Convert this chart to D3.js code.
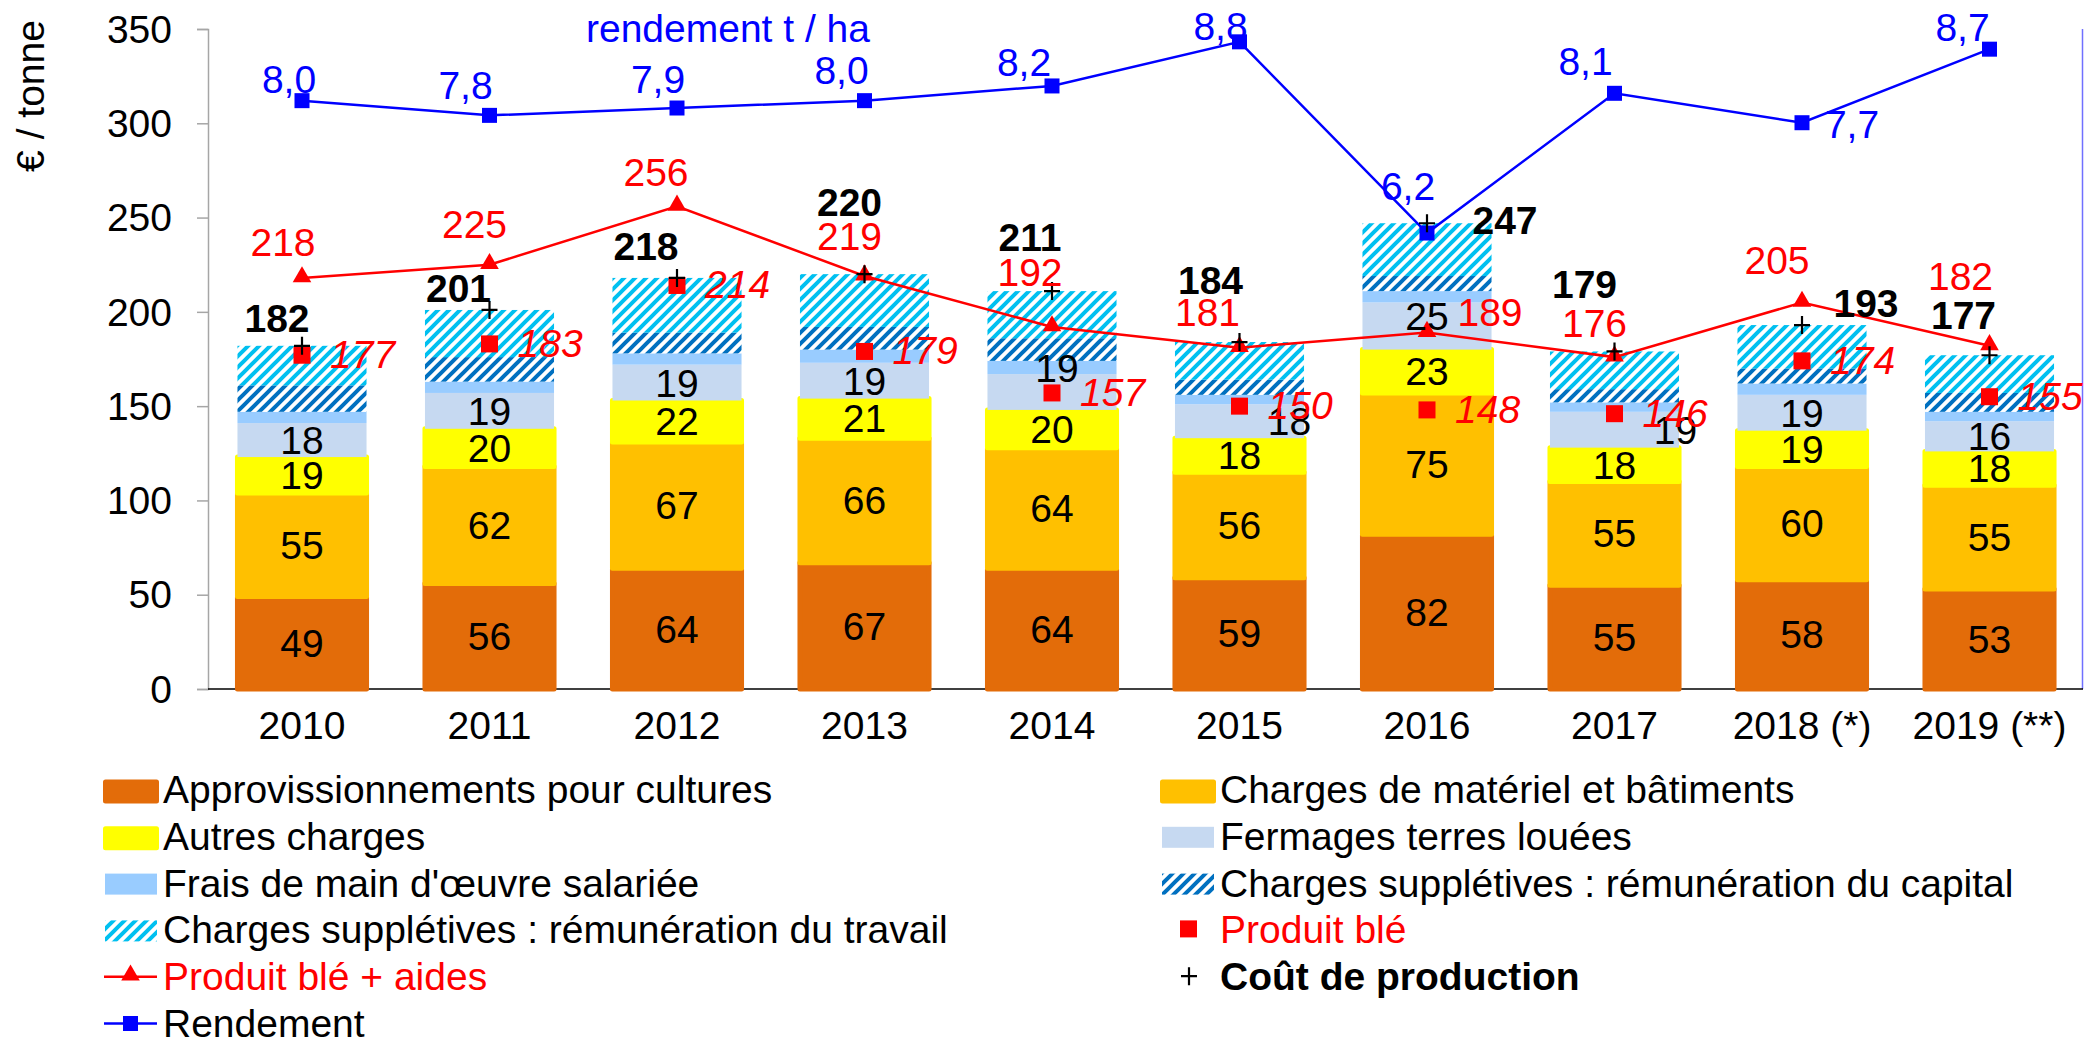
<!DOCTYPE html>
<html>
<head>
<meta charset="utf-8">
<script src="https://cdn.jsdelivr.net/npm/d3@7"></script>
<style>
  body { margin: 0; background: #fff; }
  svg { display: block; }
  text { font-family: "Liberation Sans", Arial, sans-serif; }
</style>
</head>
<body>
<svg id="chart"></svg>
<script>
// --- Data ---
const years = ["2010", "2011", "2012", "2013", "2014", "2015", "2016", "2017", "2018 (*)", "2019 (**)"];
const appro = [49, 56, 64, 67, 64, 59, 82, 55, 58, 53];
const materiel = [55, 62, 67, 66, 64, 56, 75, 55, 60, 55];
const autres = [19, 20, 22, 21, 20, 18, 23, 18, 19, 18];
const fermages = [18, 19, 19, 19, 19, 18, 25, 19, 19, 16];
const mainOeuvre = [6, 6, 6, 7, 7, 5, 6, 5, 6, 5];
const capital = [14, 13, 11, 12, 12, 8, 8, 7, 8, 10];
const travail = [21, 25, 29, 28, 25, 20, 28, 20, 23, 20];
const coutProduction = [182, 201, 218, 220, 211, 184, 247, 179, 193, 177];
const produitBle = [177, 183, 214, 179, 157, 150, 148, 146, 174, 155];
const produitAides = [218, 225, 256, 219, 192, 181, 189, 176, 205, 182];
const rendement = [8.0, 7.8, 7.9, 8.0, 8.2, 8.8, 6.2, 8.1, 7.7, 8.7];

// label nudges (px), like the hand-placed labels of the original
const coutLabelOffset = [[-25, -14], [-31, -8], [-31, -18], [-15, -58], [-22, -40], [-29, -48], [78, 11], [-30, -53], [64, -8], [-26, -26]];
const aidesLabelOffset = [[-19, -22], [-15, -27], [-21, -20], [-15, -26], [-22, -41], [-32, -22], [63, -7], [-20, -20], [-25, -28], [-29, -56]];
const rendLabelOffset = [[-13, -8], [-24, -16], [-19, -15], [-23, -17], [-28, -10], [-19, -2], [-19, -33], [-29, -18], [50, 15], [-27, -8]];
const fermagesLabelOffset = [[0, 0], [0, 0], [0, 0], [0, 0], [5, -24], [50, 0], [0, -10], [61, 0], [0, 0], [0, 0]];

const width = 2087;
const height = 1038;
const fs = 39;
const font = "Liberation Sans, Arial, sans-serif";

const svg = d3.select('#chart')
  .attr('width', width)
  .attr('height', height);

// --- Patterns ---
const defs = svg.append('defs');
function hatch(id, color) {
  const p = defs.append('pattern')
    .attr('id', id)
    .attr('patternUnits', 'userSpaceOnUse')
    .attr('width', 11).attr('height', 11);
  p.append('rect').attr('width', 11).attr('height', 11).attr('fill', '#fff');
  p.append('path')
    .attr('d', 'M-2,2 L2,-2 M0,11 L11,0 M9,13 L13,9')
    .attr('stroke', color)
    .attr('stroke-width', 4);
}
hatch('hatchCapital', '#0070C0');
hatch('hatchTravail', '#00C0F0');

// --- Scales ---
const x = d3.scaleBand()
  .domain(years)
  .range([208.25, 2083.25])
  .paddingInner(0.285)
  .paddingOuter(0.1425);
const y = d3.scaleLinear().domain([0, 350]).range([689, 29]);
const yR = d3.scaleLinear().domain([0, 350 / 39]).range([689, 29]);
const cx = i => x(years[i]) + x.bandwidth() / 2;

// --- Axes ---
const yAxis = svg.append('g')
  .attr('transform', 'translate(208,0)')
  .call(d3.axisLeft(y).tickValues(d3.range(0, 351, 50)).tickSize(11).tickPadding(25));
yAxis.select('.domain').attr('stroke', '#a6a6a6').attr('stroke-width', 1.5);
yAxis.selectAll('.tick line').attr('stroke', '#a6a6a6').attr('stroke-width', 1.5);
yAxis.selectAll('.tick text')
  .attr('font-size', fs).attr('font-family', font).attr('fill', '#000')
  .attr('dy', '0.34em');

svg.append('text')
  .attr('transform', 'translate(44,96) rotate(-90)')
  .attr('text-anchor', 'middle')
  .attr('font-size', fs)
  .text('€ / tonne');

svg.append('line')
  .attr('x1', 2082.5).attr('x2', 2082.5)
  .attr('y1', 29).attr('y2', 689)
  .attr('stroke', '#7070ff').attr('stroke-width', 1.5);

svg.append('line')
  .attr('x1', 208).attr('x2', 2083)
  .attr('y1', 689).attr('y2', 689)
  .attr('stroke', '#000').attr('stroke-width', 1.5);

svg.append('g').selectAll('text')
  .data(years)
  .join('text')
  .attr('x', d => x(d) + x.bandwidth() / 2)
  .attr('y', 739)
  .attr('text-anchor', 'middle')
  .attr('font-size', fs)
  .text(d => d);

// --- Stacked bars ---
const series = [
  { key: 'appro', values: appro, fill: '#E36C09', stroke: true, label: true },
  { key: 'materiel', values: materiel, fill: '#FFC000', stroke: true, label: true },
  { key: 'autres', values: autres, fill: '#FFFF00', stroke: true, label: true },
  { key: 'fermages', values: fermages, fill: '#C6D9F1', stroke: false, label: true },
  { key: 'mainOeuvre', values: mainOeuvre, fill: '#99CCFF', stroke: false, label: false },
  { key: 'capital', values: capital, fill: 'url(#hatchCapital)', stroke: false, label: false },
  { key: 'travail', values: travail, fill: 'url(#hatchTravail)', stroke: false, label: false }
];
const table = years.map((yr, i) => {
  const row = { year: yr };
  series.forEach(s => { row[s.key] = s.values[i]; });
  return row;
});
const stacked = d3.stack().keys(series.map(s => s.key))(table);

const barsLayer = svg.append('g');
stacked.forEach((layer, k) => {
  const s = series[k];
  barsLayer.append('g')
    .selectAll('rect')
    .data(layer)
    .join('rect')
    .attr('x', d => x(d.data.year) + 2.5)
    .attr('width', x.bandwidth() - 5)
    .attr('y', d => y(d[1]))
    .attr('height', d => y(d[0]) - y(d[1]))
    .attr('fill', s.fill)
    .attr('stroke', s.stroke ? s.fill : 'none')
    .attr('stroke-width', s.stroke ? 5 : 0)
    .attr('stroke-linejoin', 'round');
});

// --- Lines ---
const lineAides = d3.line().x((d, i) => cx(i)).y(d => y(d));
svg.append('path')
  .attr('d', lineAides(produitAides))
  .attr('fill', 'none').attr('stroke', '#FF0000').attr('stroke-width', 2.5);
const triangle = d3.symbol().type(d3.symbolTriangle).size(150);
svg.append('g').selectAll('path')
  .data(produitAides)
  .join('path')
  .attr('d', triangle)
  .attr('transform', (d, i) => `translate(${cx(i)},${y(d) - 1})`)
  .attr('fill', '#FF0000');

svg.append('g').selectAll('rect')
  .data(produitBle)
  .join('rect')
  .attr('x', (d, i) => cx(i) - 8.5)
  .attr('y', d => y(d) - 8.5)
  .attr('width', 17).attr('height', 17)
  .attr('fill', '#FF0000');

const lineRend = d3.line().x((d, i) => cx(i)).y(d => yR(d));
svg.append('path')
  .attr('d', lineRend(rendement))
  .attr('fill', 'none').attr('stroke', '#0000FF').attr('stroke-width', 2.5);
svg.append('g').selectAll('rect')
  .data(rendement)
  .join('rect')
  .attr('x', (d, i) => cx(i) - 7.5)
  .attr('y', d => yR(d) - 7.5)
  .attr('width', 15).attr('height', 15)
  .attr('fill', '#0000FF');

svg.append('g').selectAll('path')
  .data(coutProduction)
  .join('path')
  .attr('d', (d, i) => `M${cx(i) - 8},${y(d)} h16 M${cx(i)},${y(d) - 9} v18`)
  .attr('stroke', '#000').attr('stroke-width', 2.2);

// --- Labels ---
stacked.forEach((layer, k) => {
  const s = series[k];
  if (!s.label) return;
  svg.append('g').selectAll('text')
    .data(layer)
    .join('text')
    .attr('x', (d, i) => cx(i) + (s.key === 'fermages' ? fermagesLabelOffset[i][0] : 0))
    .attr('y', (d, i) => (y(d[0]) + y(d[1])) / 2 + 14 + (s.key === 'fermages' ? fermagesLabelOffset[i][1] : 0))
    .attr('text-anchor', 'middle')
    .attr('font-size', fs)
    .text(d => d[1] - d[0]);
});

svg.append('g').selectAll('text')
  .data(produitBle)
  .join('text')
  .attr('x', (d, i) => cx(i) + 28)
  .attr('y', d => y(d) + 13)
  .attr('font-size', fs)
  .attr('font-style', 'italic')
  .attr('fill', '#FF0000')
  .text(d => d);

svg.append('g').selectAll('text')
  .data(produitAides)
  .join('text')
  .attr('x', (d, i) => cx(i) + aidesLabelOffset[i][0])
  .attr('y', (d, i) => y(d) + aidesLabelOffset[i][1])
  .attr('text-anchor', 'middle')
  .attr('font-size', fs)
  .attr('fill', '#FF0000')
  .text(d => d);

svg.append('g').selectAll('text')
  .data(coutProduction)
  .join('text')
  .attr('x', (d, i) => cx(i) + coutLabelOffset[i][0])
  .attr('y', (d, i) => y(d) + coutLabelOffset[i][1])
  .attr('text-anchor', 'middle')
  .attr('font-size', fs)
  .attr('font-weight', 'bold')
  .text(d => d);

const fmtRend = d3.format('.1f');
svg.append('g').selectAll('text')
  .data(rendement)
  .join('text')
  .attr('x', (d, i) => cx(i) + rendLabelOffset[i][0])
  .attr('y', (d, i) => yR(d) + rendLabelOffset[i][1])
  .attr('text-anchor', 'middle')
  .attr('font-size', fs)
  .attr('fill', '#0000FF')
  .text(d => fmtRend(d).replace('.', ','));

svg.append('text')
  .attr('x', 728)
  .attr('y', 42)
  .attr('text-anchor', 'middle')
  .attr('font-size', fs)
  .attr('fill', '#0000FF')
  .text('rendement t / ha');

// --- Legend ---
const legendRows = [
  { col: 0, row: 0, type: 'solid', color: '#E36C09', text: 'Approvissionnements pour cultures' },
  { col: 0, row: 1, type: 'solid', color: '#FFFF00', text: 'Autres charges' },
  { col: 0, row: 2, type: 'flat', color: '#99CCFF', text: "Frais de main d'œuvre salariée" },
  { col: 0, row: 3, type: 'flat', color: 'url(#hatchTravail)', text: 'Charges supplétives : rémunération du travail' },
  { col: 0, row: 4, type: 'triangle', color: '#FF0000', text: 'Produit blé + aides', textColor: '#FF0000' },
  { col: 0, row: 5, type: 'lineSquare', color: '#0000FF', text: 'Rendement' },
  { col: 1, row: 0, type: 'solid', color: '#FFC000', text: 'Charges de matériel et bâtiments' },
  { col: 1, row: 1, type: 'flat', color: '#C6D9F1', text: 'Fermages terres louées' },
  { col: 1, row: 2, type: 'flat', color: 'url(#hatchCapital)', text: 'Charges supplétives : rémunération du capital' },
  { col: 1, row: 3, type: 'square', color: '#FF0000', text: 'Produit blé', textColor: '#FF0000' },
  { col: 1, row: 4, type: 'plus', color: '#000', text: 'Coût de production', bold: true }
];
const legend = svg.append('g');
legendRows.forEach(item => {
  const mx = item.col === 0 ? 103 : 1160;
  const tx = item.col === 0 ? 163 : 1220;
  const base = 803 + item.row * 46.8;
  const g = legend.append('g');
  if (item.type === 'solid') {
    g.append('rect').attr('x', mx + 2.5).attr('y', base - 21).attr('width', 51).attr('height', 19)
      .attr('fill', item.color).attr('stroke', item.color).attr('stroke-width', 5).attr('stroke-linejoin', 'round');
  } else if (item.type === 'flat') {
    g.append('rect').attr('x', mx + 2).attr('y', base - 23).attr('width', 52).attr('height', 21)
      .attr('fill', item.color);
  } else if (item.type === 'triangle') {
    g.append('line').attr('x1', mx + 1).attr('x2', mx + 54).attr('y1', base - 13.5).attr('y2', base - 13.5)
      .attr('stroke', item.color).attr('stroke-width', 2.5);
    g.append('path').attr('d', triangle).attr('transform', `translate(${mx + 27.5},${base - 15})`).attr('fill', item.color);
  } else if (item.type === 'lineSquare') {
    g.append('line').attr('x1', mx + 1).attr('x2', mx + 54).attr('y1', base - 13.5).attr('y2', base - 13.5)
      .attr('stroke', item.color).attr('stroke-width', 2.5);
    g.append('rect').attr('x', mx + 20).attr('y', base - 21).attr('width', 15).attr('height', 15).attr('fill', item.color);
  } else if (item.type === 'square') {
    g.append('rect').attr('x', mx + 20).attr('y', base - 23).attr('width', 17).attr('height', 17).attr('fill', item.color);
  } else if (item.type === 'plus') {
    g.append('path').attr('d', `M${mx + 21},${base - 14} h16 M${mx + 29},${base - 23} v18`)
      .attr('stroke', item.color).attr('stroke-width', 2.2);
  }
  g.append('text')
    .attr('x', tx).attr('y', base)
    .attr('font-size', fs)
    .attr('fill', item.textColor || '#000')
    .attr('font-weight', item.bold ? 'bold' : 'normal')
    .text(item.text);
});
</script>
</body>
</html>
